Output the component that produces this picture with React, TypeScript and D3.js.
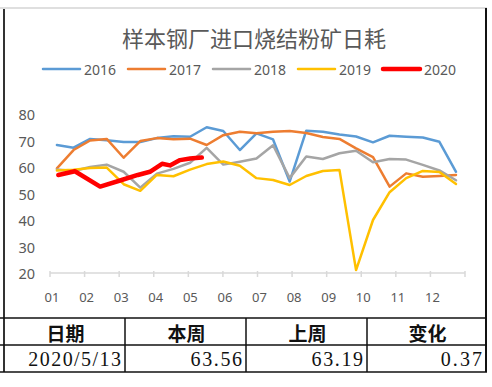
import * as d3 from 'd3';

// month labels on the x axis
const months = ['01', '02', '03', '04', '05', '06', '07', '08', '09', '10', '11', '12'];
const yTicks = [20, 30, 40, 50, 60, 70, 80];

// sampling dates of the past years, in months from Jan 1st
const histX = [0.20, 0.68, 1.16, 1.64, 2.13, 2.61, 3.09, 3.57, 4.05, 4.53, 5.01, 5.49, 5.97,
    6.45, 6.93, 7.41, 7.89, 8.37, 8.85, 9.34, 9.82, 10.30, 10.78, 11.26, 11.74];

const v2016 = [68.3, 67.3, 70.6, 70.1, 69.4, 69.4, 70.9, 71.6, 71.4, 75.0, 73.6, 66.4, 72.7,
    70.4, 54.5, 73.7, 73.3, 72.3, 71.5, 69.3, 71.8, 71.4, 71.1, 69.5, 58.2];
const v2017 = [59.5, 66.4, 70.0, 70.6, 63.5, 69.8, 70.9, 70.5, 70.7, 68.3, 72.0, 73.3, 72.7,
    73.3, 73.6, 72.8, 71.3, 70.6, 67.0, 63.7, 52.6, 57.6, 56.3, 56.6, 57.0];
const v2018 = [59.1, 58.5, 60.0, 60.9, 58.2, 52.2, 57.5, 59.3, 61.6, 67.2, 60.9, 62.0, 63.2,
    68.2, 55.8, 64.0, 63.0, 65.2, 66.1, 61.8, 63.0, 62.8, 60.8, 58.7, 55.0];
const v2019 = [58.7, 59.0, 59.6, 59.8, 53.5, 51.0, 57.0, 56.5, 59.0, 61.1, 62.1, 60.5, 55.8,
    55.1, 53.2, 56.6, 58.5, 58.9, 21.1, 40.0, 50.5, 55.8, 58.5, 58.1, 53.6];

// 2020 weekly data so far
const x2020 = [0.24, 0.72, 1.45, 2.05, 2.54, 2.89, 3.24, 3.47, 3.76, 4.05, 4.39];
const v2020 = [57.0, 58.4, 52.6, 55.0, 57.0, 58.2, 61.2, 60.6, 62.6, 63.19, 63.56];

const years = ['2016', '2017', '2018', '2019', '2020'];
const colors = ['#5B9BD5', '#ED7D31', '#A5A5A5', '#FFC000', '#FF0000'];

// summary table
const headers = ['日期', '本周', '上周', '变化'];
const row = ['2020/5/13', '63.56', '63.19', '0.37'];

export default function App() {
    const W = 492, H = 387;
    const x = d3.scaleLinear().domain([0, 12]).range([50, 465]);
    const y = d3.scaleLinear().domain([20, 80]).range([273, 114]);

    const line = d3.line<[number, number]>()
        .x(d => x(d[0]))
        .y(d => y(d[1]));

    const series = [
        { name: '2016', pts: histX.map((m, i) => [m, v2016[i]]), w: 2.5 },
        { name: '2017', pts: histX.map((m, i) => [m, v2017[i]]), w: 2.5 },
        { name: '2018', pts: histX.map((m, i) => [m, v2018[i]]), w: 2.5 },
        { name: '2019', pts: histX.map((m, i) => [m, v2019[i]]), w: 2.5 },
        { name: '2020', pts: x2020.map((m, i) => [m, v2020[i]]), w: 4.5 },
    ];

    const cols = [4, 125, 246, 367, 486];
    const txt = '#595959';

    return (
        <svg width={W} height={H} style={{ position: 'fixed', left: 0, top: 0, background: '#fff' }}>
            {/* frame */}
            <line x1={0} x2={487} y1={8} y2={8} stroke="#d4d4d4" strokeWidth={1.5} />
            <line x1={4} x2={4} y1={9} y2={372} stroke="#333" strokeWidth={2} />
            <line x1={486} x2={486} y1={8} y2={372} stroke="#111" strokeWidth={2} />

            <text x={254} y={37} textAnchor="middle" dominantBaseline="central"
                fontFamily="'Noto Sans CJK SC'" fontSize={22} fill={txt}>样本钢厂进口烧结粉矿日耗</text>

            {/* legend */}
            {years.map((yr, i) => {
                const lx = 43 + i * 85;
                return (
                    <g key={yr}>
                        <line x1={lx} x2={lx + 37} y1={69} y2={69} stroke={colors[i]}
                            strokeWidth={i === 4 ? 4.5 : 2.5} strokeLinecap="round" />
                        <text x={lx + 41} y={69} dominantBaseline="central" fontFamily="'Noto Sans'"
                            fontSize={14} fill={txt}>{yr}</text>
                    </g>
                );
            })}

            {/* y axis labels */}
            {yTicks.map(t => (
                <text key={t} x={35} y={y(t)} textAnchor="end" dominantBaseline="central"
                    fontFamily="'Noto Sans'" fontSize={14.5} fill={txt}>{t}</text>
            ))}

            {/* x axis */}
            <line x1={x(0)} x2={x(12)} y1={y(20)} y2={y(20)} stroke="#d9d9d9" strokeWidth={1.5} />
            {d3.range(13).map(i => (
                <line key={i} x1={x(i)} x2={x(i)} y1={y(20) - 2} y2={y(20) + 4} stroke="#d9d9d9" strokeWidth={1.5} />
            ))}
            {months.map((m, i) => (
                <text key={m} x={x(i) + 2} y={297} textAnchor="middle" dominantBaseline="central"
                    fontFamily="'Noto Sans'" fontSize={13} fill={txt}>{m}</text>
            ))}

            {/* series */}
            {series.map((s, i) => (
                <path key={s.name} d={line(s.pts as [number, number][]) || ''} fill="none"
                    stroke={colors[i]} strokeWidth={s.w} strokeLinejoin="round" strokeLinecap="round" />
            ))}

            {/* table */}
            {[318, 345, 372].map(ty => (
                <line key={ty} x1={0} x2={487} y1={ty} y2={ty} stroke="#111" strokeWidth={1.5} />
            ))}
            {cols.slice(1, 4).map(cx => (
                <line key={cx} x1={cx} x2={cx} y1={318} y2={372} stroke="#111" strokeWidth={1.5} />
            ))}
            {headers.map((h, i) => (
                <text key={h} x={(cols[i] + cols[i + 1]) / 2 + 1} y={332} textAnchor="middle"
                    dominantBaseline="central" fontFamily="'Noto Sans CJK SC'" fontWeight="bold"
                    fontSize={19} fill="#111">{h}</text>
            ))}
            {row.map((r, i) => (
                <text key={i} x={cols[i + 1] - 4} y={359} textAnchor="end" dominantBaseline="central"
                    fontFamily="'Liberation Serif'" fontSize={20} fill="#111"
                    textLength={r.length * 10.3} lengthAdjust="spacing">{r}</text>
            ))}
        </svg>
    );
}
